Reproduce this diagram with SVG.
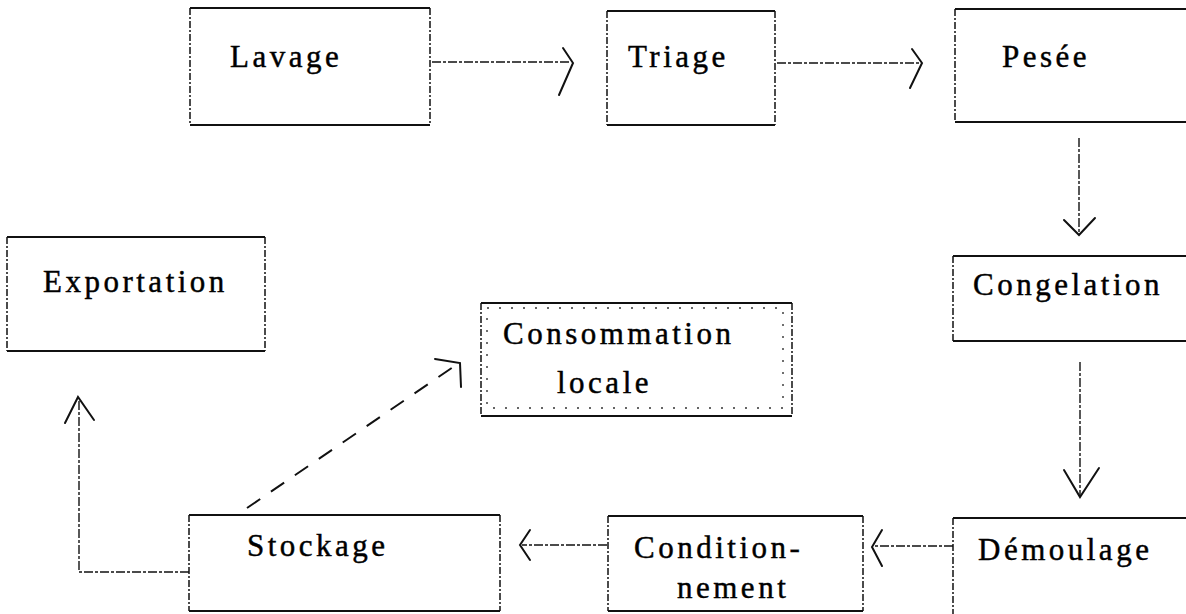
<svg xmlns="http://www.w3.org/2000/svg" width="1186" height="614" viewBox="0 0 1186 614">
<defs>
<style>
.bg{fill:#fff}
.hz{stroke:#111;stroke-width:2.2;fill:none}
.vt{stroke:#111;stroke-width:1.5;fill:none;stroke-dasharray:7 2 2 2}
.dot{stroke:#333;stroke-width:1.4;fill:none;stroke-dasharray:2 10}
.lbl{font-family:"Liberation Serif","DejaVu Serif",serif;font-size:31px;letter-spacing:3.5px;fill:#000;stroke:#000;stroke-width:0.45}
.con{stroke:#111;stroke-width:1.4;fill:none;stroke-dasharray:9 2 3 2}
.dia{stroke:#111;stroke-width:2;fill:none;stroke-dasharray:16 13}
.head{stroke:#111;stroke-width:2;fill:none;stroke-linecap:round;stroke-linejoin:miter}
</style>
</defs>
<rect class="bg" x="0" y="0" width="1186" height="614"/>

<g id="connectors">
<line class="con" x1="432" y1="62" x2="570" y2="62"/>
<polyline class="head" points="563,48 573,63 559,95"/>
<line class="con" x1="777" y1="63" x2="920" y2="63"/>
<polyline class="head" points="912,49 922,63 910,88"/>
<line class="con" x1="1079" y1="138" x2="1079" y2="233"/>
<polyline class="head" points="1064,220 1079,235 1095,218"/>
<line class="con" x1="1080" y1="362" x2="1080" y2="495"/>
<polyline class="head" points="1064,470 1080,497 1099,468"/>
<line class="con" x1="953" y1="546" x2="874" y2="546"/>
<polyline class="head" points="882,530 872,547 882,566"/>
<line class="con" x1="607" y1="545" x2="522" y2="545"/>
<polyline class="head" points="530,530 520,545 530,560"/>
<polyline class="con" points="189,572 79,572 79,399"/>
<polyline class="head" points="65,423 78,397 94,420"/>
<line class="dia" x1="247" y1="508" x2="456" y2="365"/>
<polyline class="head" points="435,359 460,363 461,387"/>
</g>

<g id="node-lavage">
<rect class="bg" x="190" y="7" width="240" height="118"/>
<path class="hz" d="M190,8 H430 M190,125 H430"/>
<path class="vt" d="M190,8 V125 M430,8 V125"/>
<text class="lbl" x="230" y="67">Lavage</text>
</g>

<g id="node-triage">
<rect class="bg" x="607" y="10" width="168" height="115"/>
<path class="hz" d="M607,11 H775 M607,125 H775"/>
<path class="vt" d="M607,11 V125 M775,11 V125"/>
<text class="lbl" x="628" y="67">Triage</text>
</g>

<g id="node-pesee">
<rect class="bg" x="955" y="8" width="231" height="114"/>
<path class="hz" d="M955,9 H1186 M955,122 H1186"/>
<path class="vt" d="M955,9 V122"/>
<text class="lbl" x="1002" y="67">Pesée</text>
</g>

<g id="node-congelation">
<rect class="bg" x="953" y="255" width="233" height="87"/>
<path class="hz" d="M953,256 H1186 M953,341 H1186"/>
<path class="vt" d="M953,256 V341"/>
<text class="lbl" x="973" y="295">Congelation</text>
</g>

<g id="node-demoulage">
<rect class="bg" x="953" y="517" width="233" height="97"/>
<path class="hz" d="M953,518 H1186"/>
<path class="vt" d="M953,518 V614"/>
<text class="lbl" x="978" y="560">Démoulage</text>
</g>

<g id="node-conditionnement">
<rect class="bg" x="608" y="515" width="255" height="97"/>
<path class="hz" d="M608,516 H863 M608,611 H863"/>
<path class="vt" d="M608,516 V611 M863,516 V611"/>
<text class="lbl" x="634" y="558">Condition-</text>
<text class="lbl" x="677" y="598">nement</text>
</g>

<g id="node-stockage">
<rect class="bg" x="189" y="514" width="311" height="98"/>
<path class="hz" d="M189,515 H500 M189,611 H500"/>
<path class="vt" d="M189,515 V611 M500,515 V611"/>
<text class="lbl" x="247" y="556">Stockage</text>
</g>

<g id="node-exportation">
<rect class="bg" x="7" y="236" width="258" height="116"/>
<path class="hz" d="M7,237 H265 M7,351 H265"/>
<path class="vt" d="M7,237 V351 M265,237 V351"/>
<text class="lbl" x="43" y="292">Exportation</text>
</g>

<g id="node-consommation">
<rect class="bg" x="481" y="302" width="311" height="114"/>
<path class="hz" d="M481,303 H792 M481,416 H792"/>
<path class="vt" d="M481,303 V416 M792,303 V416"/>
<rect class="dot" x="487" y="308" width="296" height="100"/>
<text class="lbl" x="503" y="344">Consommation</text>
<text class="lbl" x="557" y="393">locale</text>
</g>
</svg>
